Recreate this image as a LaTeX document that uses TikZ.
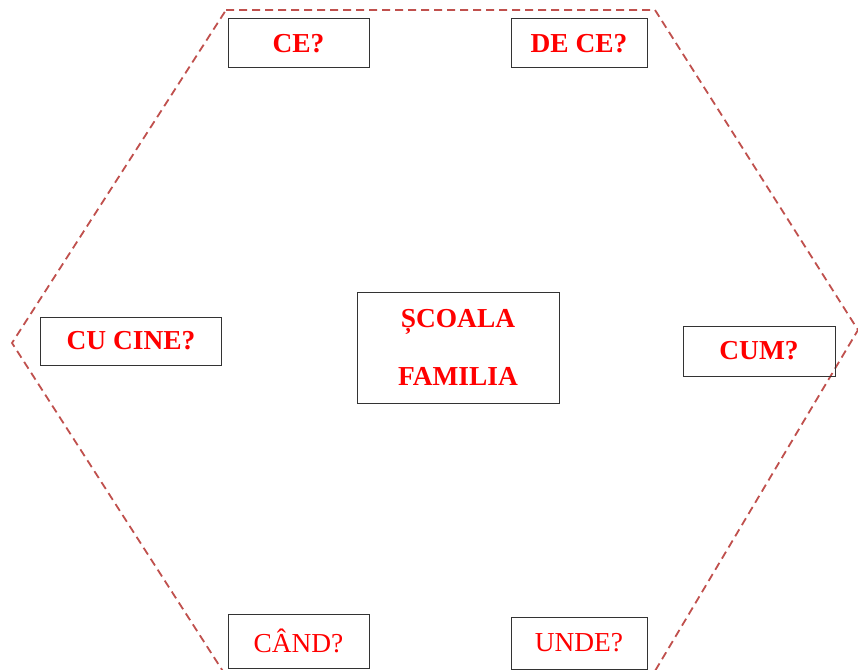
\documentclass[tikz,border=0pt]{standalone}
\usepackage{fontspec}
\setmainfont{Liberation Serif}
\definecolor{hexred}{HTML}{C0504D}
\definecolor{boxline}{HTML}{333333}
\definecolor{txtred}{HTML}{FF0000}
\begin{document}
\begin{tikzpicture}[x=1bp,y=-1bp,
  qbox/.style={draw=boxline, line width=1bp, inner sep=0pt, text=txtred,
    font=\fontsize{27.5}{33}\selectfont\bfseries},
  qboxr/.style={qbox, font=\fontsize{27.5}{33}\selectfont},
  hexline/.style={draw=hexred, line width=1.8bp, dash pattern=on 8bp off 5bp}]
\useasboundingbox (0,0) rectangle (858,670);
\clip (0,0) rectangle (858,670);
\fill[white] (0,0) rectangle (858,670);
% dashed hexagon
\coordinate (h1) at (226,10);
\coordinate (h2) at (655,10);
\coordinate (h3) at (858,330);
\coordinate (h4) at (652,676);
\coordinate (h5) at (226,676);
\coordinate (h6) at (12,343);
\draw[hexline] (h1) -- (h2) -- (h3) -- (h4) -- (h5) -- (h6) -- cycle;
% boxes
\node[qbox, minimum width=141bp, minimum height=49bp] (ce) at (298.5,43.5) {CE?};
\node[qbox, minimum width=136bp, minimum height=49bp] (dece) at (579,43.5) {DE CE?};
\node[qbox, minimum width=180bp, minimum height=48bp] (cucine) at (131,341) {CU CINE?};
\node[qbox, minimum width=152bp, minimum height=50bp] (cum) at (759,351) {CUM?};
\node[qboxr, minimum width=141bp, minimum height=54bp] (cand) at (298.5,641) {CÂND?};
\node[qboxr, minimum width=136bp, minimum height=52bp] (unde) at (579,643) {UNDE?};
\node[qbox, minimum width=202bp, minimum height=111bp, align=center,
  font=\fontsize{27.5}{58}\selectfont\bfseries] (center) at (458,347.5) {ȘCOALA\\FAMILIA};
\end{tikzpicture}
\end{document}
